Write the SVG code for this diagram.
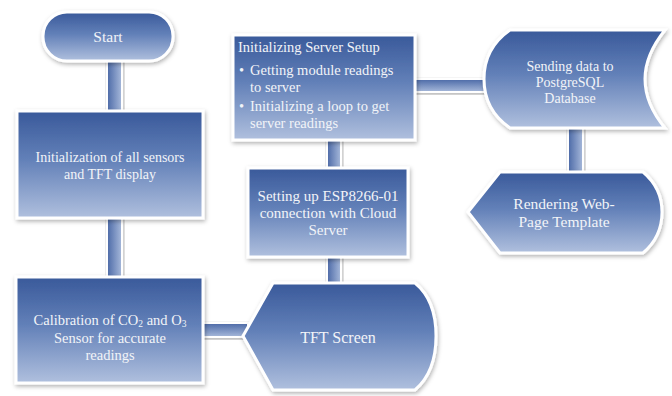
<svg xmlns="http://www.w3.org/2000/svg" width="672" height="396" viewBox="0 0 672 396">
<defs>
<linearGradient id="gNode" x1="0" y1="0" x2="0" y2="1">
<stop offset="0" stop-color="#39599a"/>
<stop offset="0.45" stop-color="#6280b8"/>
<stop offset="1" stop-color="#b0c0de"/>
</linearGradient>
<linearGradient id="gH" x1="0" y1="0" x2="0" y2="1">
<stop offset="0" stop-color="#4a68a6"/>
<stop offset="1" stop-color="#a8badb"/>
</linearGradient>
<linearGradient id="gV" x1="0" y1="0" x2="1" y2="0">
<stop offset="0" stop-color="#4a68a6"/>
<stop offset="1" stop-color="#a8badb"/>
</linearGradient>
<filter id="sh" x="-10%" y="-10%" width="125%" height="130%">
<feDropShadow dx="1" dy="2" stdDeviation="2" flood-color="#000" flood-opacity="0.3"/>
</filter>
</defs>
<style>
.node{fill:url(#gNode);stroke:#ffffff;stroke-width:3;filter:url(#sh)}
.ch{fill:url(#gH);stroke:#ffffff;stroke-width:2;filter:url(#sh)}
.cv{fill:url(#gV);stroke:#ffffff;stroke-width:2;filter:url(#sh)}
text{fill:#f2f4f8}
.c{text-anchor:middle}
</style>
<rect width="672" height="396" fill="#ffffff"/>
<g id="connectors">
<rect class="cv" x="107" y="58" width="15" height="56"/>
<rect class="cv" x="107" y="214" width="15" height="66"/>
<rect class="ch" x="198" y="323" width="50" height="14"/>
<rect class="cv" x="327" y="136" width="14" height="36"/>
<rect class="cv" x="327" y="253" width="14" height="33"/>
<rect class="ch" x="411" y="79" width="76" height="13"/>
<rect class="cv" x="568" y="126" width="15" height="50"/>
</g>
<g font-family="'Liberation Serif', 'Times New Roman', serif">
<g id="start">
<rect class="node" x="43" y="12" width="130" height="49" rx="24" ry="24"/>
<text class="c" x="108" y="42" font-size="15.5">Start</text>
</g>
<g id="init">
<rect class="node" x="17" y="111" width="186" height="107"/>
<text class="c" x="110" y="162" font-size="14">Initialization of all sensors</text>
<text class="c" x="110" y="179" font-size="14">and TFT display</text>
</g>
<g id="calib" font-size="14.5">
<rect class="node" x="16" y="277" width="187" height="106"/>
<text class="c" x="110" y="325">Calibration of CO<tspan font-size="9.5" dy="2">2</tspan><tspan dy="-2"> and O</tspan><tspan font-size="9.5" dy="2">3</tspan></text>
<text class="c" x="110" y="343">Sensor for accurate</text>
<text class="c" x="110" y="360">readings</text>
</g>
<g id="tft">
<path class="node" d="M243,336 L273,283 L415,283 Q436,300 436,336 Q436,372 415,390 L273,390 Z"/>
<text class="c" x="338" y="343" font-size="16">TFT Screen</text>
</g>
<g id="server">
<rect class="node" x="233" y="35" width="182" height="105"/>
<text x="238" y="52" font-size="14.5">Initializing Server Setup</text>
<g font-size="14.5">
<text x="239" y="75">•</text>
<text x="250" y="75">Getting module readings</text>
<text x="250" y="92">to server</text>
<text x="239" y="111">•</text>
<text x="250" y="111">Initializing a loop to get</text>
<text x="250" y="128">server readings</text>
</g>
</g>
<g id="esp" font-size="15">
<rect class="node" x="248" y="168" width="160" height="89"/>
<text class="c" x="328" y="201">Setting up ESP8266-01</text>
<text class="c" x="328" y="218">connection with Cloud</text>
<text class="c" x="328" y="235">Server</text>
</g>
<g id="sending" font-size="14">
<path class="node" d="M510,30 L665,30 Q645,55 645,79 Q645,104 665,128 L510,128 Q484,110 484,79 Q484,48 510,30 Z"/>
<text class="c" x="570" y="71">Sending data to</text>
<text class="c" x="570" y="87">PostgreSQL</text>
<text class="c" x="570" y="103">Database</text>
</g>
<g id="render" font-size="15.5">
<path class="node" d="M468,212 L500,172 L643,172 Q662,188 662,212 Q662,237 643,253 L500,253 Z"/>
<text class="c" x="564" y="209">Rendering Web-</text>
<text class="c" x="564" y="227">Page Template</text>
</g>
</g>
</svg>
